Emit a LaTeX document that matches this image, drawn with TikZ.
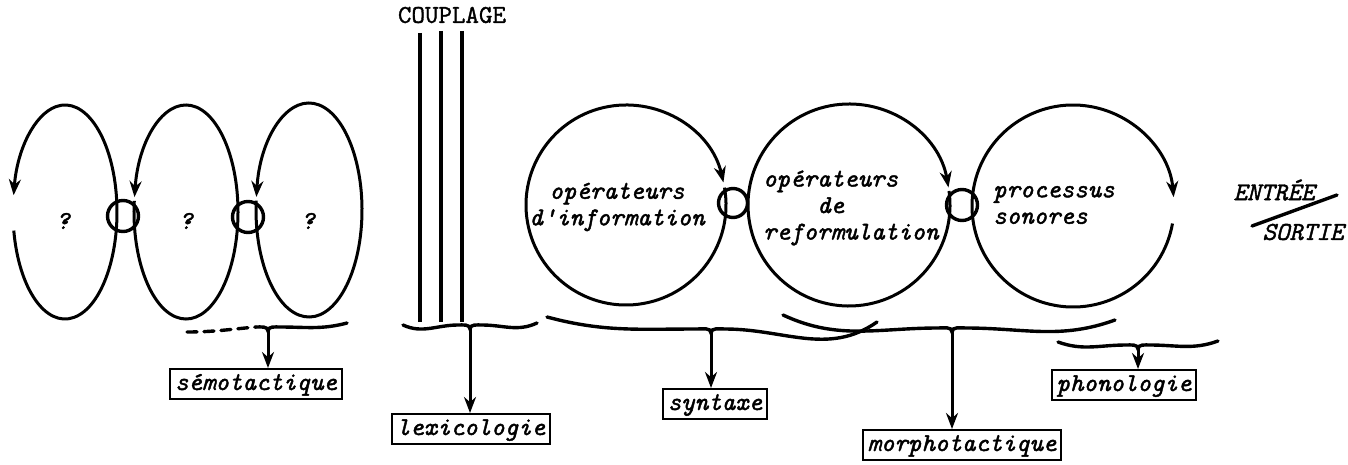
\documentclass[tikz,border=0pt]{standalone}
\usepackage{fontspec}
\newfontfamily\machine{lmmono10-italic}[Extension=.otf, FakeBold=1.6]
\newfontfamily\machinedroite{lmmono10-regular}[Extension=.otf, FakeBold=1.2]
\usetikzlibrary{arrows.meta}
\tikzstyle{boucle} = [line width=3.2pt]
\tikzstyle{arrow} = [line width=3pt,->,>={Stealth[length=16pt,width=12pt]}]
\tikzstyle{jonction} = [circle, draw, line width=3.4pt, minimum size=31pt, inner sep=0pt]
\tikzstyle{frappe} = [font=\fontsize{25.7}{26.5}\selectfont\machine]
\tikzstyle{libre} = [frappe, inner sep=0pt]
\tikzstyle{domaine} = [frappe, rectangle, draw, line width=2pt, inner xsep=5pt, inner ysep=4pt, text height=17pt, text depth=5pt]
\tikzstyle{accolade} = [line width=3.4pt, line cap=round]

\begin{document}
\begin{tikzpicture}[x=1pt,y=1pt]
    \useasboundingbox (0,0) rectangle (1348,-465);

    % les trois boucles de gauche
    \coordinate (e1) at (65,-212);
    \coordinate (e2) at (186,-212);
    \coordinate (e3) at (309,-210);
    \draw [arrow] (e1) ++(190:52 and 107) arc[start angle=190, end angle=531, x radius=52, y radius=107];
    \draw [arrow] (e2) ++(174:52 and 107) arc[start angle=174, end angle=532, x radius=52, y radius=107];
    \draw [arrow] (e3) ++(175:53 and 107) arc[start angle=175, end angle=533, x radius=53, y radius=107];
    \node [jonction] (j1) at (123,-216) {};
    \node [jonction] (j2) at (248,-217) {};
    \node [libre] (q1) at (63,-221) {?};
    \node [libre] (q2) at (186,-221) {?};
    \node [libre] (q3) at (308,-221) {?};

    % couplage
    \node [font=\fontsize{25.7}{26.5}\selectfont\machinedroite, inner sep=0pt] (couplage) at (452,-15) {COUPLAGE};
    \draw [boucle] (420,-33) -- (420,-322);
    \draw [boucle] (441,-31) -- (441,-322);
    \draw [boucle] (462,-31) -- (462,-322);

    % les trois cercles
    \coordinate (info) at (626,-205);
    \coordinate (reform) at (849,-205);
    \coordinate (sonore) at (1073,-206);
    \draw [arrow] (info) ++(10:100) arc[start angle=10, end angle=-347, radius=100];
    \draw [arrow] (reform) ++(8:101) arc[start angle=8, end angle=-350, radius=101];
    \draw [arrow] (sonore) ++(-10:101) arc[start angle=-10, end angle=-355, radius=101];
    \node [jonction, minimum size=29pt] (j3) at (733,-203) {};
    \node [jonction] (j4) at (962,-205) {};
    \node [libre, align=center] (t-info) at (617,-207) {opérateurs\\d'information};
    \node [libre, align=left, anchor=west] (t-reform) at (763,-208) {opérateurs\\\phantom{opér}de\\reformulation};
    \node [libre, align=left, anchor=west] (t-sonore) at (993,-205) {processus\\sonores};

    % entree / sortie
    \node [libre] (entree) at (1274,-190) {ENTRÉE};
    \node [libre] (sortie) at (1303,-232) {SORTIE};
    \coordinate (barre-a) at (1252,-226);
    \coordinate (barre-b) at (1337,-195);
    \draw [accolade] (barre-a) -- (barre-b);

    % accolades
    \coordinate (semo-l) at (187,-332);
    \coordinate (semo-tip) at (268,-331);
    \coordinate (semo-r) at (347,-323);
    \coordinate (lex-l) at (403,-325);
    \coordinate (lex-tip) at (470,-329);
    \coordinate (lex-r) at (537,-323);
    \coordinate (syn-l) at (547,-317);
    \coordinate (syn-tip) at (711,-333);
    \coordinate (syn-r) at (877,-322);
    \coordinate (morph-l) at (783,-315);
    \coordinate (morph-tip) at (952,-332);
    \coordinate (morph-r) at (1115,-320);
    \coordinate (phono-l) at (1058,-342);
    \coordinate (phono-tip) at (1138,-349);
    \coordinate (phono-r) at (1218,-341);

    \draw [accolade, dash pattern=on 10pt off 7pt] (semo-l) to[out=0,in=185] ([shift={(-12,4)}]semo-tip);
    \draw [accolade] ([shift={(-12,4)}]semo-tip) to[out=0,in=90] (semo-tip) to[out=90,in=180] ([shift={(12,4)}]semo-tip) to[out=0,in=195] (semo-r);
    \draw [accolade] (lex-l) to[out=-25,in=180] ([shift={(-12,4)}]lex-tip) to[out=0,in=90] (lex-tip) to[out=90,in=180] ([shift={(12,4)}]lex-tip) to[out=0,in=205] (lex-r);
    \draw [accolade] (syn-l) to[out=-15,in=180] ([shift={(-14,4)}]syn-tip) to[out=0,in=90] (syn-tip) to[out=90,in=180] ([shift={(14,4)}]syn-tip) to[out=0,in=215] (syn-r);
    \draw [accolade] (morph-l) to[out=-25,in=180] ([shift={(-14,4)}]morph-tip) to[out=0,in=90] (morph-tip) to[out=90,in=180] ([shift={(14,4)}]morph-tip) to[out=0,in=200] (morph-r);
    \draw [accolade] (phono-l) to[out=-20,in=180] ([shift={(-12,4)}]phono-tip) to[out=0,in=90] (phono-tip) to[out=90,in=180] ([shift={(12,4)}]phono-tip) to[out=0,in=200] (phono-r);

    % domaines
    \node [domaine] (semo) at (256,-384) {sémotactique};
    \node [domaine] (lexi) at (471,-429) {lexicologie};
    \node [domaine] (synt) at (715,-404) {syntaxe};
    \node [domaine] (morph) at (962,-445) {morphotactique};
    \node [domaine] (phono) at (1124,-385) {phonologie};
    \draw [arrow] (semo-tip) -- (semo-tip |- semo.north);
    \draw [arrow] (lex-tip) -- (lex-tip |- lexi.north);
    \draw [arrow] (syn-tip) -- (syn-tip |- synt.north);
    \draw [arrow] (morph-tip) -- (morph-tip |- morph.north);
    \draw [arrow] (phono-tip) -- (phono-tip |- phono.north);
\end{tikzpicture}
\end{document}
